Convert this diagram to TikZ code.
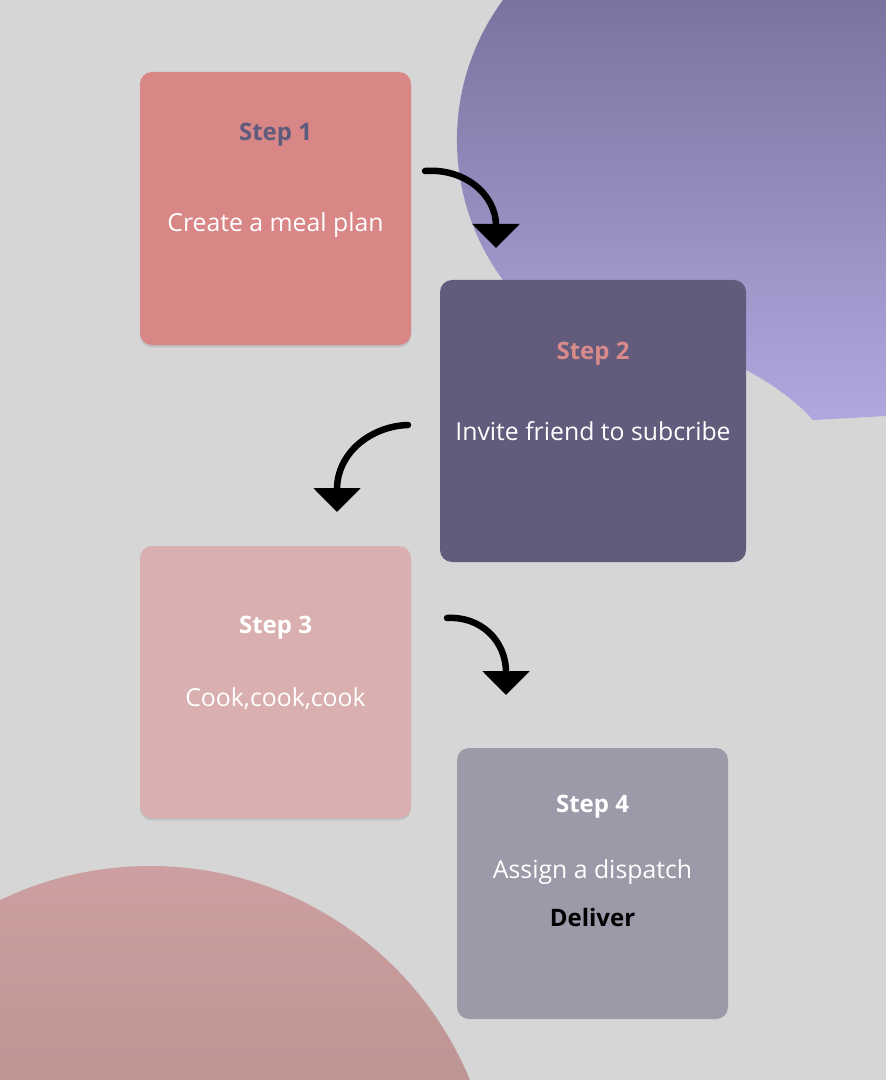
\documentclass[tikz,border=0pt]{standalone}
\usepackage{fontspec}
\setmainfont{Open Sans}
\usepackage{tikz}
\usetikzlibrary{arrows.meta, shadows}
\definecolor{Bg_gray}{HTML}{D6D6D6}
\definecolor{Blob_top}{HTML}{7B739F}
\definecolor{Blob_bottom}{HTML}{B1A7DF}
\definecolor{Disc_top}{HTML}{CE9FA0}
\definecolor{Disc_bottom}{HTML}{BD9593}
\definecolor{Step1_red}{HTML}{D88686}
\definecolor{Step1_title}{HTML}{5E5B7D}
\definecolor{Step2_purple}{HTML}{625B7C}
\definecolor{Step2_title}{HTML}{D98A8A}
\definecolor{Step3_rose}{HTML}{D9B0AF}
\definecolor{Step4_gray}{HTML}{9C99A8}
\tikzset{
  stepbox/.style={rectangle, rounded corners=6pt, inner sep=0pt},
  boxshadow/.style={drop shadow={shadow xshift=0pt, shadow yshift=-1.2pt, opacity=0.25}},
  steptitle/.style={anchor=base, inner sep=0pt, font=\fontsize{12}{14}\selectfont\bfseries},
  steptext/.style={anchor=base, inner sep=0pt, text=white, font=\fontsize{12.4}{14}\selectfont},
  flowarrow/.style={line width=3.25pt, line cap=round, -{Triangle[width=23pt, length=12pt]}}
}

\begin{document}
\begin{tikzpicture}[x=0.5pt, y=-0.5pt]
        \fill[Bg_gray] (0,0) rectangle (886,1080);
        \useasboundingbox (0,0) rectangle (886,1080);
        \shade[top color=Blob_top, bottom color=Blob_bottom] (886,0) -- (503,0) arc[start angle=216.4, end angle=77, radius=236] .. controls (775,385) and (800,405) .. (813,420) -- (886,416) -- cycle;
        \begin{scope}
            \clip (150,1212) circle[radius=346];
            \shade[top color=Disc_top, bottom color=Disc_bottom] (0,866) rectangle (500,1080);
        \end{scope}

        \node[stepbox, boxshadow, fill=Step1_red, minimum width=135.5pt, minimum height=136.5pt] (box1) at (275.5,208.5) {};
        \node[stepbox, fill=Step2_purple, minimum width=153pt, minimum height=141pt] (box2) at (593,421) {};
        \node[stepbox, boxshadow, fill=Step3_rose, minimum width=135.5pt, minimum height=136pt] (box3) at (275.5,682) {};
        \node[stepbox, fill=Step4_gray, minimum width=135.5pt, minimum height=135.5pt] (box4) at (592.5,883.5) {};

        \node[steptitle, text=Step1_title] (title1) at (275.5,141) {Step 1};
        \node[steptext] (text1) at (275.5,232) {Create a meal plan};
        \node[steptitle, text=Step2_title] (title2) at (593,359) {Step 2};
        \node[steptext] (text2) at (593,440) {Invite friend to subcribe};
        \node[steptitle, text=white] (title3) at (275.5,633) {Step 3};
        \node[steptext] (text3) at (275.5,706) {Cook,cook,cook};
        \node[steptitle, text=white] (title4) at (592.5,812) {Step 4};
        \node[steptext] (text4) at (592.5,878) {Assign a dispatch};
        \node[steptitle, text=black] (deliver) at (592.5,926) {Deliver};

        \coordinate (a1s) at (425,171);
        \coordinate (a1e) at (496,248);
        \coordinate (a2s) at (408,425);
        \coordinate (a2e) at (337,512);
        \coordinate (a3s) at (447,618);
        \coordinate (a3e) at (506,695);
        \draw[flowarrow] (a1s) .. controls (465,168) and (496,195) .. (a1e);
        \draw[flowarrow] (a2s) .. controls (372,426) and (337,452) .. (a2e);
        \draw[flowarrow] (a3s) .. controls (480,616) and (506,640) .. (a3e);
    \end{tikzpicture}
\end{document}
